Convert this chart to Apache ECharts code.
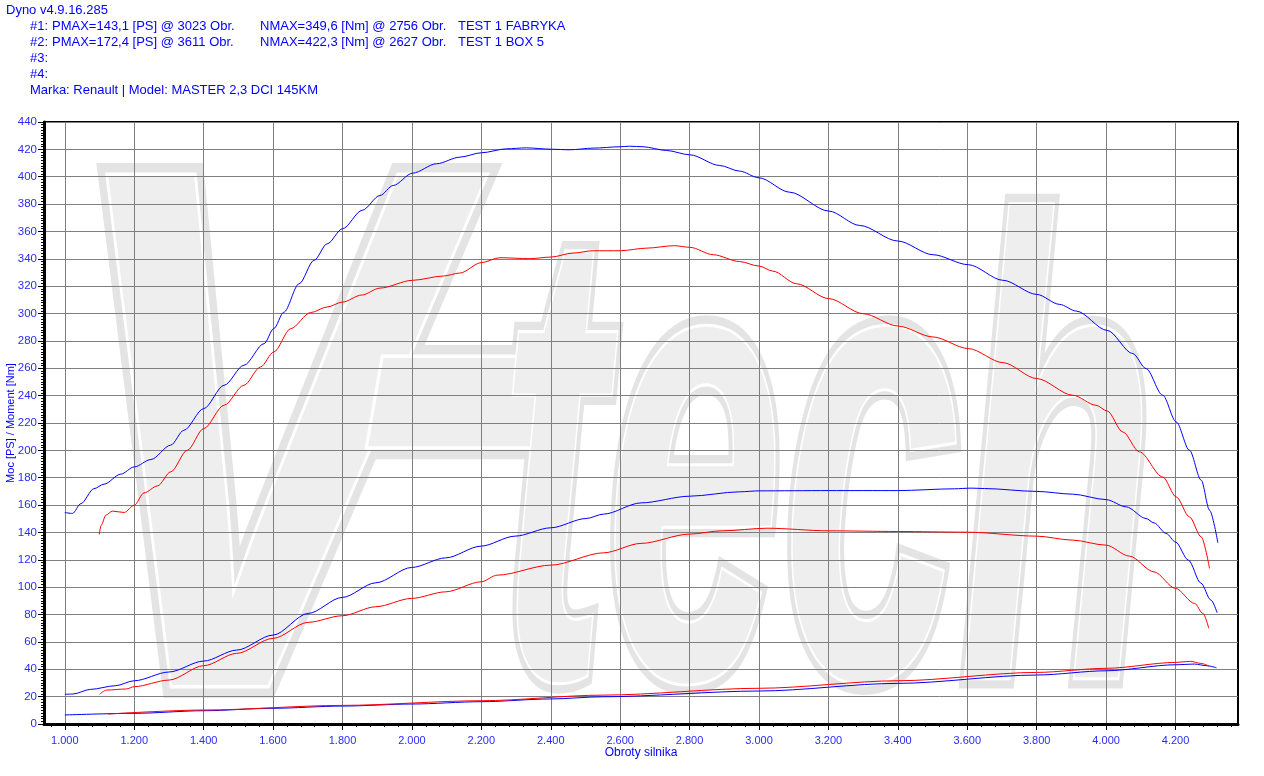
<!DOCTYPE html>
<html>
<head>
<meta charset="utf-8">
<script src="https://cdn.jsdelivr.net/npm/echarts@6/dist/echarts.min.js"></script>
<style>
html,body{margin:0;padding:0;background:#ffffff;}
#chart{width:1264px;height:776px;}
</style>
</head>
<body>
<div id="chart"></div>
<script>
// ---------------- header texts ----------------
const titleText = 'Dyno v4.9.16.285';
const runLabels = ['#1:', '#2:', '#3:', '#4:'];
const pmaxTexts = ['PMAX=143,1 [PS] @ 3023 Obr.', 'PMAX=172,4 [PS] @ 3611 Obr.', '', ''];
const nmaxTexts = ['NMAX=349,6 [Nm] @ 2756 Obr.', 'NMAX=422,3 [Nm] @ 2627 Obr.', '', ''];
const runNames = ['TEST 1 FABRYKA', 'TEST 1 BOX 5', '', ''];
const carText = 'Marka: Renault | Model: MASTER 2,3 DCI 145KM';
const xAxisName = 'Obroty silnika';
const yAxisName = 'Moc [PS] / Moment [Nm]';
const watermarkParts = ['V', '-', 'tech'];

// ---------------- axis ticks ----------------
const rpmMin = 940;
const rpmMax = 4380;
const majorRpmTicks = [1000, 1200, 1400, 1600, 1800, 2000, 2200, 2400, 2600, 2800, 3000, 3200, 3400, 3600, 3800, 4000, 4200];
const valueMin = 0;
const valueMax = 440;
const valueStep = 20;

// ---------------- data: [rpm, value] ----------------
// #2 TEST 1 BOX 5 - torque [Nm]
const torqueBox5 = [[1000,154.6],[1022,153.9],[1046,161],[1084,172],[1113,175.3],[1161,182.6],[1200,187.9],[1248,193.3],[1305,203.8],[1343,214.7],[1400,230.5],[1459,247.6],[1516,262.2],[1574,278],[1602,289],[1631,301],[1675,321.8],[1718,338.9],[1756,351],[1800,362],[1857,375.5],[1908,386.3],[1946,393.6],[2002,402.6],[2071,409.5],[2138,414.3],[2200,417.5],[2273,420.4],[2330,421.1],[2401,420.1],[2455,419.7],[2522,420.9],[2600,421.9],[2627,422.3],[2666,421.9],[2733,419.2],[2801,416],[2887,408.2],[2944,404.1],[3000,399.2],[3088,388.7],[3201,374.9],[3290,364.4],[3400,353],[3501,343],[3603,335.7],[3703,324.3],[3800,314],[3866,306.7],[3914,301.8],[4003,287.7],[4077,270.7],[4115,259.8],[4163,240.3],[4202,220.8],[4240,200.1],[4274,178.2],[4298,156.3],[4322,132.4]];
// #1 TEST 1 FABRYKA - torque [Nm]
const torqueFactory = [[1099,138.5],[1105,145.3],[1118,152.6],[1137,155.6],[1171,154.6],[1200,159.9],[1228,168.9],[1267,174],[1305,184.3],[1353,200.1],[1400,215.9],[1459,233],[1516,247.6],[1564,261],[1602,271.9],[1651,289],[1708,300.7],[1756,304.8],[1800,308.4],[1855,313.5],[1908,318.6],[2002,324.3],[2090,327.4],[2138,329.6],[2200,337.2],[2253,340.8],[2340,340.1],[2401,341.3],[2464,344.2],[2522,345.9],[2600,345.9],[2676,347.8],[2756,349.6],[2801,348.4],[2868,343],[2944,338],[3000,334.7],[3040,331],[3108,321.8],[3201,310.9],[3300,299.9],[3400,290.9],[3501,282.9],[3603,274.4],[3703,264.1],[3800,252.5],[3904,240.3],[3971,233],[4003,228.8],[4048,213.5],[4096,198.9],[4163,180.6],[4202,166],[4240,151.4],[4274,136.8],[4298,113.7]];
// #2 TEST 1 BOX 5 - power [PS]
const powerBox5 = [[1000,21.7],[1023,21.9],[1074,25.3],[1146,28],[1200,31.6],[1300,38],[1400,46],[1495,54],[1600,65],[1701,80.8],[1799,92.5],[1896,103.2],[1999,114.4],[2097,121.4],[2199,130],[2297,137.3],[2400,143.4],[2502,150.2],[2552,153.4],[2660,161.6],[2800,166.5],[2944,169.7],[3000,170.4],[3200,170.6],[3400,170.6],[3563,171.9],[3611,172.4],[3650,172.1],[3800,170],[3903,168],[4000,164],[4058,158.7],[4115,150.2],[4138,147],[4173,139.3],[4200,133],[4237,119.8],[4273,103],[4302,90.6],[4320,81.3]];
// #1 TEST 1 FABRYKA - power [PS]
const powerFactory = [[1100,21.7],[1120,24.8],[1177,25.6],[1200,27.3],[1300,32.1],[1400,42.6],[1495,51.6],[1600,62.6],[1701,74.3],[1799,79.1],[1896,85.7],[1999,91.8],[2097,96.6],[2199,103.9],[2246,108.8],[2400,116.1],[2552,125.1],[2660,132],[2800,138.8],[2894,141.2],[3023,143.1],[3200,141.2],[3400,140.7],[3600,140.2],[3800,137.3],[3903,134.4],[4000,130.7],[4067,122.7],[4138,111.2],[4200,99.1],[4255,88.1],[4279,80.8],[4296,69.9]];
// low curves (losses)
const lossBox5 = [[1000,6.6],[1200,7.8],[1400,9.7],[1600,11.5],[1800,13.1],[2000,14.6],[2200,16.3],[2400,18.3],[2550,19.9],[3000,24.1],[3400,29.7],[3800,35.8],[4000,38.9],[4200,43.3],[4255,43.8],[4290,42.6],[4318,41.1]];
const lossFactory = [[1125,7.3],[1400,10.2],[1800,13.6],[2200,17],[2550,21.1],[3000,26.1],[3400,31.6],[3800,37.7],[4000,40.7],[4200,45],[4243,45.8],[4273,44.3],[4296,42.4]];

// ---------------- styling ----------------
const BLUE = '#0000ff';
const RED = '#ff0000';
const TEXT_BLUE = '#0000ff';
const LABEL_BLUE = '#2a2aff';
const FONT = '"Liberation Sans", Arial, sans-serif';

const minorRpmTicks = [];
for (let v = 960; v <= rpmMax; v += 40) minorRpmTicks.push(v);

const chart = echarts.init(document.getElementById('chart'), null, {renderer: 'canvas'});

function headerText(str, x, y) {
  return {type: 'text', x: x, y: y, silent: true, z: 10,
    style: {text: str, fill: TEXT_BLUE, font: '13px ' + FONT, verticalAlign: 'middle', align: 'left'}};
}
function watermark(str, x, y, sx, sy) {
  const font = 'italic bold 740px ' + FONT;
  return [
    {type: 'text', x: x, y: y, z: -20, scaleX: sx, scaleY: sy, silent: true,
      style: {text: str, font: font, fill: '#e4e4e4', stroke: '#e4e4e4', lineWidth: 26, verticalAlign: 'top', align: 'left'}},
    {type: 'text', x: x, y: y, z: -19, scaleX: sx, scaleY: sy, silent: true,
      style: {text: str, font: font, fill: '#eeeeee', stroke: '#ffffff', lineWidth: 7, verticalAlign: 'top', align: 'left'}}
  ];
}
let graphics = [];
// watermark logo
graphics = graphics.concat(watermark(watermarkParts[0], 60, 111, 0.78, 1));
graphics = graphics.concat(watermark(watermarkParts[1], 350, 20, 0.9, 1));
graphics = graphics.concat(watermark(watermarkParts[2], 500, 172, 0.43, 0.88));
graphics.push(headerText(titleText, 6, 10));
for (let i = 0; i < runLabels.length; i++) {
  const y = 26 + i * 16;
  graphics.push(headerText(runLabels[i], 30, y));
  if (pmaxTexts[i]) graphics.push(headerText(pmaxTexts[i], 52, y));
  if (nmaxTexts[i]) graphics.push(headerText(nmaxTexts[i], 260, y));
  if (runNames[i]) graphics.push(headerText(runNames[i], 458, y));
}
graphics.push(headerText(carText, 30, 90));

function lineSeries(name, data, color, z) {
  return {name: name, type: 'line', data: data, showSymbol: false, symbol: 'none',
    smooth: 0.3, smoothMonotone: 'x', z: z, animation: false,
    lineStyle: {color: color, width: 1}, itemStyle: {color: color}};
}

const option = {
  backgroundColor: '#ffffff',
  animation: false,
  grid: {left: 44, right: 26, top: 122, bottom: 52, show: true, borderColor: '#000000', borderWidth: 2,
    backgroundColor: 'transparent', containLabel: false, outerBoundsMode: 'none'},
  xAxis: [{
    type: 'value', min: rpmMin, max: rpmMax, position: 'bottom',
    axisLine: {show: true, onZero: false, lineStyle: {color: '#000000', width: 3}},
    axisTick: {show: true, customValues: majorRpmTicks, length: 6, lineStyle: {color: '#000000', width: 1}},
    axisLabel: {show: true, customValues: majorRpmTicks, formatter: v => (v / 1000).toFixed(3), color: LABEL_BLUE, fontSize: 11, fontFamily: FONT, margin: 11},
    splitLine: {show: true, lineStyle: {color: '#7f7f7f', width: 1}},
    name: xAxisName, nameLocation: 'middle', nameGap: 23, nameMoveOverlap: false,
    nameTextStyle: {color: TEXT_BLUE, fontSize: 12, fontFamily: FONT}
  }, {
    type: 'value', min: rpmMin, max: rpmMax, position: 'bottom',
    axisLine: {show: false},
    axisTick: {show: true, customValues: minorRpmTicks, length: 3, lineStyle: {color: '#000000', width: 1}},
    axisLabel: {show: false},
    splitLine: {show: false}
  }],
  yAxis: {
    type: 'value', min: valueMin, max: valueMax, interval: valueStep,
    axisLine: {show: true, lineStyle: {color: '#000000', width: 3}},
    axisTick: {show: true, length: 6, lineStyle: {color: '#000000', width: 1}},
    minorTick: {show: true, splitNumber: 10, length: 3, lineStyle: {color: '#000000', width: 1}},
    axisLabel: {color: LABEL_BLUE, fontSize: 11.5, fontFamily: FONT, margin: 7},
    splitLine: {show: true, lineStyle: {color: '#7f7f7f', width: 1}},
    name: yAxisName, nameLocation: 'middle', nameGap: 28, nameRotate: 90, nameMoveOverlap: false,
    nameTextStyle: {color: TEXT_BLUE, fontSize: 11, fontFamily: FONT}
  },
  graphic: graphics,
  series: [
    lineSeries('Moment BOX 5', torqueBox5, BLUE, 3),
    lineSeries('Moment FABRYKA', torqueFactory, RED, 4),
    lineSeries('Moc BOX 5', powerBox5, BLUE, 3),
    lineSeries('Moc FABRYKA', powerFactory, RED, 4),
    lineSeries('Straty BOX 5', lossBox5, BLUE, 3),
    lineSeries('Straty FABRYKA', lossFactory, RED, 4)
  ]
};
chart.setOption(option);
</script>
</body>
</html>
